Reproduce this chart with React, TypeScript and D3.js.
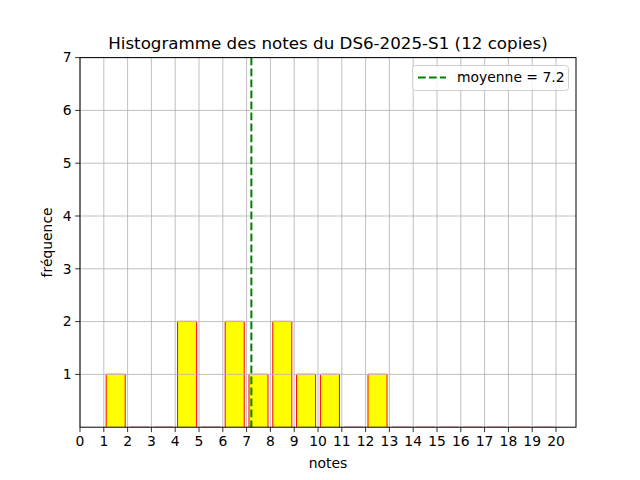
import React from "react";
import * as d3 from "d3";

const binEdges = [1, 2, 3, 4, 5, 6, 7, 8, 9, 10, 11, 12, 13, 14, 15, 16, 17, 18, 19, 20];
const counts = [1, 0, 0, 2, 0, 2, 1, 2, 1, 1, 0, 1, 0, 0, 0, 0, 0, 0, 0];
const xTicks = d3.range(0, 21);
const yTicks = [1, 2, 3, 4, 5, 6, 7];
const mean = 7.2;
const title = "Histogramme des notes du DS6-2025-S1 (12 copies)";
const xLabel = "notes";
const yLabel = "fréquence";
const legendLabel = "moyenne = 7.2";

const W = 640, H = 480;
const L = 80, R = 576, T = 57.6, B = 427.2;
const rwidth = 0.8;
const font = "DejaVu Sans, sans-serif";

export default function App() {
  const x = d3.scaleLinear().domain([0, 20.84]).range([L, R]);
  const y = d3.scaleLinear().domain([0, 7]).range([B, T]);
  const bars = counts.map((c, i) => {
    const a = binEdges[i], b = binEdges[i + 1];
    const w = (b - a) * rwidth;
    const x0 = a + (b - a - w) / 2;
    return { c, x0, x1: x0 + w };
  });
  return (
    <svg width={W} height={H} style={{ display: "block", position: "absolute", left: 0, top: 0 }} fontFamily={font}>
      <rect x={0} y={0} width={W} height={H} fill="#fff" />
      {bars.map((d, i) => {
        const px0 = x(d.x0), px1 = x(d.x1), py = y(d.c);
        if (d.c === 0) {
          return <line key={i} x1={px0} x2={px1} y1={B - 0.5} y2={B - 0.5} stroke="#f2b0b0" strokeWidth={1} />;
        }
        return (
          <g key={i}>
            <rect x={px0} y={py} width={px1 - px0} height={B - py} fill="#ffff00" />
            <line x1={px0} x2={px1} y1={py - 0.5} y2={py - 0.5} stroke="#f0b8b8" strokeWidth={1.2} />
            <line x1={px0} x2={px0} y1={py} y2={B} stroke="#ff0000" strokeWidth={1} />
            <line x1={px1} x2={px1} y1={py} y2={B} stroke="#ff0000" strokeWidth={1} />
          </g>
        );
      })}
      {/* grid */}
      {xTicks.map((t) => (
        <line key={"gx" + t} x1={x(t)} x2={x(t)} y1={T} y2={B} stroke="#b0b0b0" strokeWidth={0.8} />
      ))}
      {yTicks.map((t) => (
        <line key={"gy" + t} x1={L} x2={R} y1={y(t)} y2={y(t)} stroke="#b0b0b0" strokeWidth={0.8} />
      ))}
      {/* mean line */}
      <line x1={x(mean)} x2={x(mean)} y1={T} y2={B} stroke="#008000" strokeWidth={2} strokeDasharray="7.7 3.3" />
      {/* spines */}
      <rect x={L} y={T} width={R - L} height={B - T} fill="none" stroke="#000" strokeWidth={1} />
      {/* x ticks */}
      {xTicks.map((t) => (
        <g key={"tx" + t}>
          <line x1={x(t)} x2={x(t)} y1={B} y2={B + 4.9} stroke="#000" strokeWidth={0.8} />
          <text x={x(t)} y={B + 18.5} fontSize={13.9} textAnchor="middle" fill="#000">{t}</text>
        </g>
      ))}
      {yTicks.map((t) => (
        <g key={"ty" + t}>
          <line x1={L - 4.9} x2={L} y1={y(t)} y2={y(t)} stroke="#000" strokeWidth={0.8} />
          <text x={L - 8.5} y={y(t)} dy="0.35em" fontSize={13.9} textAnchor="end" fill="#000">{t}</text>
        </g>
      ))}
      <text x={(L + R) / 2} y={468} fontSize={13.9} textAnchor="middle" fill="#000">{xLabel}</text>
      <text transform={`translate(52,${(T + B) / 2}) rotate(-90)`} fontSize={13.9} textAnchor="middle" fill="#000">{yLabel}</text>
      <text x={(L + R) / 2} y={49} fontSize={16.7} textAnchor="middle" fill="#000">{title}</text>
      {/* legend */}
      <rect x={412.5} y={65.5} width={156} height={25} rx={3} fill="#fff" fillOpacity={0.8} stroke="#d0d0d0" strokeWidth={1} />
      <line x1={418} x2={446} y1={77.5} y2={77.5} stroke="#008000" strokeWidth={2} strokeDasharray="7.7 3.3" />
      <text x={457} y={77.5} dy="0.35em" fontSize={13.9} fill="#000">{legendLabel}</text>
    </svg>
  );
}
